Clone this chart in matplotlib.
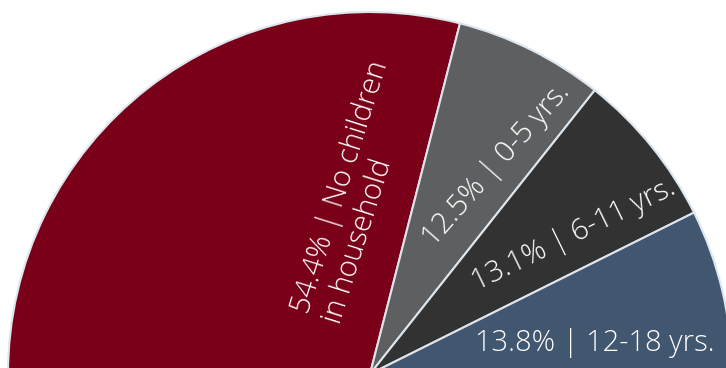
import matplotlib.pyplot as plt
import numpy as np

# share of households, %
labels = ['54.4% | No children\nin household', '12.5% | 0-5 yrs.',
          '13.1% | 6-11 yrs.', '13.8% | 12-18 yrs.']
shares = [54.4, 12.5, 13.1, 13.8]
colors = ['#7a001a', '#5e5f60', '#323232', '#41566f']

# label placement (pixel coords of the 726x368 image) and rotation
label_xy = [(356, 192), (502, 170), (577, 242), (595, 351)]
label_rot = [72.5, 48.5, 26, 0]
label_va = ['center', 'baseline', 'baseline', 'baseline']

W, H = 726, 368
fig = plt.figure(figsize=(W / 100, H / 100), dpi=100)
ax = fig.add_axes([0, 0, 1, 1])

# half-donut trick: hidden wedge of the same total fills the lower half
sizes = shares + [sum(shares)]
wedges, _ = ax.pie(sizes, colors=colors + ['none'], startangle=180,
                   counterclock=False, center=(370, -6), radius=362,
                   wedgeprops=dict(edgecolor='#dce6ee', linewidth=1.5))
wedges[-1].set_edgecolor('none')

ax.set_xlim(0, W)
ax.set_ylim(0, H)
ax.set_aspect('equal')
ax.axis('off')

for lab, (x, y), rot, va in zip(labels, label_xy, label_rot, label_va):
    ax.text(x, H - y, lab, rotation=rot, rotation_mode='anchor',
            ha='center', va=va, multialignment='left', color='white',
            fontsize=21, family='Open Sans', fontweight='light',
            linespacing=1.2)

fig.savefig('out.png', dpi=100)
